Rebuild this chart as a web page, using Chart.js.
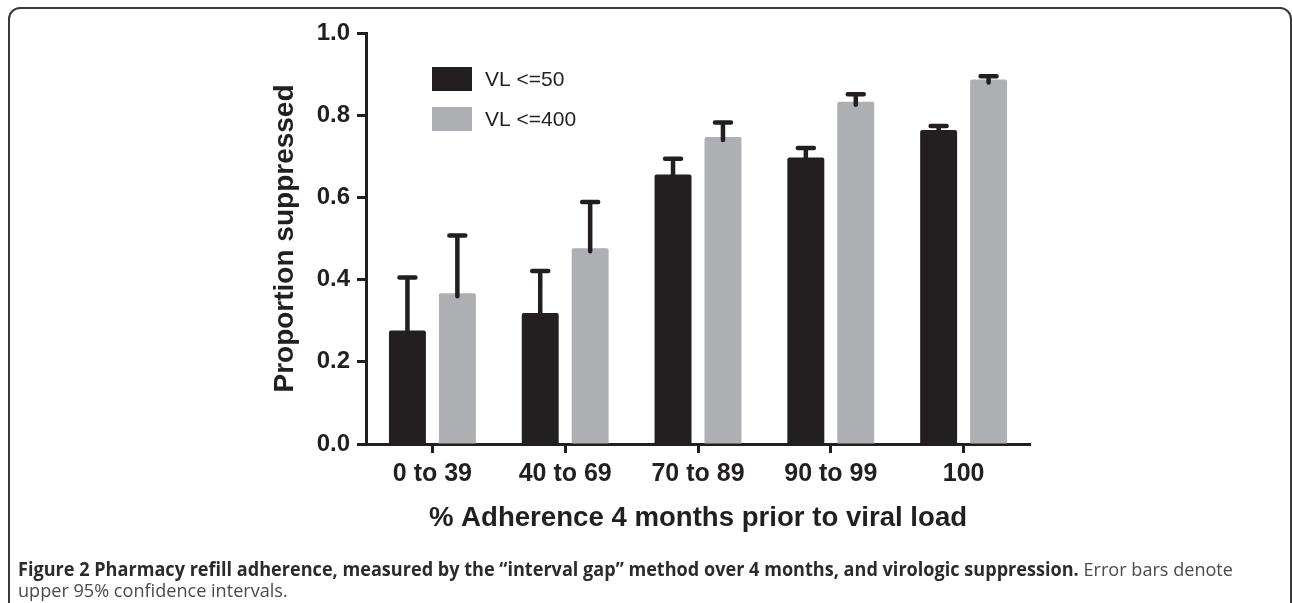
<!DOCTYPE html>
<html>
<head>
<meta charset="utf-8">
<script src="https://cdn.jsdelivr.net/npm/chart.js@4.4.0/dist/chart.umd.min.js"></script>
<style>
html, body { margin: 0; padding: 0; background: #fff; width: 1292px; height: 603px; overflow: hidden; }
#frame { position: absolute; left: 8px; top: 7px; width: 1284px; height: 640px; border: 2px solid #3a3a3a; border-radius: 12px 12px 0 0; box-sizing: border-box; }
#chart { position: absolute; left: 0; top: 0; }
#caption { position: absolute; left: 18px; top: 559px; font-family: 'Open Sans', sans-serif; font-size: 19px; line-height: 21px; color: #4a4a4a; white-space: nowrap; transform-origin: 0 0; }
#caption b { color: #2b2b2b; }
</style>
</head>
<body>
<canvas id="chart" width="1292" height="603"></canvas>
<div id="frame"></div>
<div id="caption"><span id="line1"><b>Figure 2 Pharmacy refill adherence, measured by the “interval gap” method over 4 months, and virologic suppression.</b> Error bars denote</span><br>upper 95% confidence intervals.</div>
<script>
var categories = ['0 to 39', '40 to 69', '70 to 89', '90 to 99', '100'];
var seriesNames = ['VL <=50', 'VL <=400'];
var vl50 = [0.276, 0.319, 0.656, 0.697, 0.764];
var vl50Upper = [0.405, 0.421, 0.694, 0.720, 0.774];
var vl400 = [0.367, 0.476, 0.747, 0.833, 0.887];
var vl400Upper = [0.507, 0.589, 0.782, 0.851, 0.895];

var black = '#231f20';
var grey = '#aeafb2';
var fontFam = "'Liberation Sans', Arial, sans-serif";

// upper CI whiskers
var errorBars = {
    id: 'errorBars',
    afterDatasetsDraw: function (chart) {
        var ctx = chart.ctx;
        var y = chart.scales.y;
        ctx.save();
        ctx.strokeStyle = black;
        ctx.lineWidth = 4.5;
        ctx.lineCap = 'round';
        chart.data.datasets.forEach(function (ds, di) {
            var meta = chart.getDatasetMeta(di);
            meta.data.forEach(function (bar, i) {
                var top = y.getPixelForValue(ds.upper[i]);
                ctx.beginPath();
                ctx.moveTo(bar.x, bar.y + 3);
                ctx.lineTo(bar.x, top);
                ctx.moveTo(bar.x - 8, top);
                ctx.lineTo(bar.x + 8, top);
                ctx.stroke();
            });
        });
        ctx.restore();
    }
};

var boxLegend = {
    id: 'boxLegend',
    afterDraw: function (chart) {
        var ctx = chart.ctx;
        var a = chart.chartArea;
        ctx.save();
        ctx.font = '21px ' + fontFam;
        ctx.textBaseline = 'middle';
        chart.data.datasets.forEach(function (ds, i) {
            var bx = a.left + 66;
            var by = a.top + 34 + i * 40;
            ctx.fillStyle = ds.backgroundColor;
            ctx.fillRect(bx, by, 40, 24);
            ctx.fillStyle = black;
            ctx.fillText(ds.label, bx + 53, by + 13);
        });
        ctx.restore();
    }
};

var ctx = document.getElementById('chart').getContext('2d');
var chart = new Chart(ctx, {
    type: 'bar',
    data: {
        labels: categories,
        datasets: [{
            label: seriesNames[0],
            data: vl50,
            upper: vl50Upper,
            backgroundColor: black,
            borderRadius: 2,
            borderSkipped: 'bottom'
        }, {
            label: seriesNames[1],
            data: vl400,
            upper: vl400Upper,
            backgroundColor: grey,
            borderRadius: 2,
            borderSkipped: 'bottom'
        }]
    },
    options: {
        responsive: false,
        animation: false,
        categoryPercentage: 0.752,
        barPercentage: 0.74,
        layout: { padding: { left: 264, right: 262, top: 33, bottom: 64 } },
        plugins: {
            legend: { display: false },
            tooltip: { enabled: false }
        },
        scales: {
            x: {
                afterFit: function (s) { s.height = 95; },
                grid: { drawOnChartArea: false, offset: false, tickLength: 9, tickWidth: 3, tickColor: black },
                border: { display: true, width: 3, color: black },
                ticks: { color: black, padding: 6, font: { family: fontFam, size: 25, weight: 'bold' } },
                title: { display: true, text: '% Adherence 4 months prior to viral load', color: black, font: { family: fontFam, size: 27.6, weight: 'bold' } }
            },
            y: {
                min: 0,
                max: 1,
                afterFit: function (s) { s.width = 102; },
                grid: { drawOnChartArea: false, tickLength: 9, tickWidth: 3, tickColor: black },
                border: { display: true, width: 3, color: black },
                ticks: {
                    stepSize: 0.2, color: black, padding: 7,
                    font: { family: fontFam, size: 24, weight: 'bold' },
                    callback: function (v) { return v.toFixed(1); }
                },
                title: { display: true, text: 'Proportion suppressed', color: black, font: { family: fontFam, size: 28, weight: 'bold' } }
            }
        }
    },
    plugins: [errorBars, boxLegend]
});

// squeeze the caption so the first line ends where the figure's does
var line1 = document.getElementById('line1');
var w = line1.getBoundingClientRect().width;
document.getElementById('caption').style.transform = 'scaleX(' + (1215 / w) + ')';
</script>
</body>
</html>
